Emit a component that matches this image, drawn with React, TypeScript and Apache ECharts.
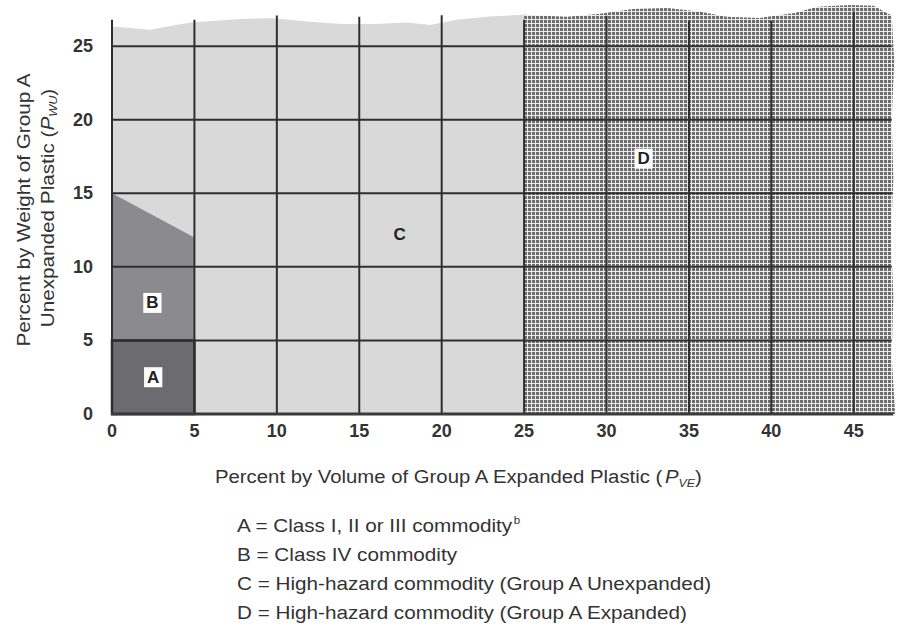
import React, { useEffect, useRef } from "react";
import * as echarts from "echarts";

// ---- data ----
const xTicks = [0, 5, 10, 15, 20, 25, 30, 35, 40, 45];
const yTicks = [0, 5, 10, 15, 20, 25];
const X_MAX = 47.5;
const Y_MAX = 28;

// region A: Class I, II or III
const regionA = [[0, 0], [5, 0], [5, 5], [0, 5]];
// region B: Class IV
const regionB = [[0, 5], [5, 5], [5, 12], [0, 15]];
// wavy top of region C (x 0..25)
const topCx = [0, 2.3, 4.75, 7.8, 9.8, 11.8, 13.9, 15.9, 17.9, 19.3, 20.9, 22.9, 25];
const topCy = [26.33, 26.11, 26.6, 26.85, 26.9, 26.67, 26.51, 26.51, 26.6, 26.43, 26.79, 27.01, 27.13];
// wavy top of region D (x 25..47.2)
const topDx = [25, 27.6, 29.6, 31.6, 33.7, 35.7, 37.3, 39.3, 41.4, 42.8, 44.8, 46.2, 47.2];
const topDy = [27.13, 26.99, 27.2, 27.53, 27.6, 27.33, 26.99, 26.92, 27.26, 27.67, 27.8, 27.74, 27.13];
// ragged right edge of region D (top to bottom)
const edgeDy = [27.13, 24, 20, 16, 12, 8, 4, 0];
const edgeDx = [47.3, 47.45, 47.3, 47.4, 47.25, 47.4, 47.3, 47.5];

// grid lines
const vLineX = [0, 5, 10, 15, 20, 25, 30, 35, 40, 45];
const vLineTop = [26.8, 26.8, 27.08, 27.0, 27.1, 26.8, 27.06, 26.74, 26.74, 27.35];
const hLineY = [5, 10, 15, 20, 25];
const hLineRight = [47.3, 47.3, 47.35, 47.3, 47.3];
const axisRight = 47.4;

// region labels
const labelText = ["A", "B", "C", "D"];
const labelX = [2.5, 2.45, 17.45, 32.25];
const labelY = [2.5, 7.55, 12.2, 17.35];
const labelBoxed = [true, true, false, true];

// legend lines
const legendLines = [
  "A = Class I, II or III commodity{sup|b}",
  "B = Class IV commodity",
  "C = High-hazard commodity (Group A Unexpanded)",
  "D = High-hazard commodity (Group A Expanded)",
];

const FONT = '"Liberation Sans", Arial, Helvetica, sans-serif';
const TEXT = "#333333";
const LINE = "#2f2f2f";

function zip(xs: number[], ys: number[]): number[][] {
  return xs.map((x, i) => [x, ys[i]]);
}

function makeHatch(): string {
  const c = document.createElement("canvas");
  c.width = 4;
  c.height = 4;
  const g = c.getContext("2d")!;
  g.fillStyle = "#ececec";
  g.fillRect(0, 0, 4, 4);
  g.fillStyle = "#6c6c6c";
  g.fillRect(0, 0, 3, 3);
  return c.toDataURL();
}

export default function App() {
  const ref = useRef<HTMLDivElement>(null);

  useEffect(() => {
    if (!ref.current) return;
    const chart = echarts.init(ref.current, undefined, { renderer: "svg" });

    const regionC = [[0, 0], [25, 0], ...zip(topCx, topCy).reverse()];
    const edgeUp = zip(edgeDx, edgeDy).reverse();
    const regionD = [[25, 0], ...edgeUp, ...zip(topDx, topDy).reverse()];
    const hatch = makeHatch();

    const regionPolys = [regionC, regionD, regionB, regionA];
    const regionFills: any[] = [
      "#d9d9d9",
      { image: hatch, repeat: "repeat", imageWidth: 4, imageHeight: 4 },
      "#8b8b8f",
      "#6c6c70",
    ];

    const baseFont = { fontFamily: FONT, fontSize: 18, fill: TEXT };

    const legendGraphics = legendLines.map((t, i) => ({
      type: "text",
      x: 237,
      y: 526 + i * 29,
      scaleX: 1.15,
      style: {
        text: t,
        ...baseFont,
        lineHeight: 22,
        align: "left",
        verticalAlign: "middle",
        rich: {
          sup: {
            fontFamily: FONT,
            fontSize: 10,
            fill: TEXT,
            verticalAlign: "top",
            lineHeight: 16,
          },
        },
      },
    }));

    const subRich = {
      i: { fontFamily: FONT, fontSize: 18, fontStyle: "italic", fill: TEXT, lineHeight: 22 },
      s: { fontFamily: FONT, fontSize: 11, fontStyle: "italic", fill: TEXT, verticalAlign: "bottom", lineHeight: 12 },
    };

    const option: any = {
      animation: false,
      backgroundColor: "#ffffff",
      grid: { left: 112, right: 4, top: 2, bottom: 216, containLabel: false },
      xAxis: {
        type: "value",
        min: 0,
        max: X_MAX,
        interval: 5,
        axisLine: { show: false },
        axisTick: { show: false },
        splitLine: { show: false },
        axisLabel: {
          margin: 8,
          fontSize: 18,
          fontWeight: "bold",
          fontFamily: FONT,
          color: TEXT,
          showMaxLabel: false,
          formatter: (v: number) => (xTicks.includes(v) ? String(v) : ""),
        },
      },
      yAxis: {
        type: "value",
        min: 0,
        max: Y_MAX,
        interval: 5,
        axisLine: { show: false },
        axisTick: { show: false },
        splitLine: { show: false },
        axisLabel: {
          margin: 19,
          fontSize: 18,
          fontWeight: "bold",
          fontFamily: FONT,
          color: TEXT,
          showMaxLabel: false,
          formatter: (v: number) => (yTicks.includes(v) ? String(v) : ""),
        },
      },
      series: [
        {
          type: "custom",
          name: "regions",
          z: 1,
          silent: true,
          data: regionPolys.map((_, i) => [i, 0]),
          renderItem: (params: any, api: any) => {
            const poly = regionPolys[params.dataIndex];
            return {
              type: "polygon",
              shape: { points: poly.map((p) => api.coord(p)) },
              style: { fill: regionFills[params.dataIndex], stroke: null },
            };
          },
        },
        {
          type: "custom",
          name: "vgrid",
          z: 2,
          silent: true,
          data: vLineX.map((x, i) => [x, vLineTop[i]]),
          renderItem: (params: any, api: any) => {
            const x = api.value(0);
            const top = api.value(1);
            const p0 = api.coord([x, 0]);
            const p1 = api.coord([x, top]);
            return {
              type: "line",
              shape: { x1: p0[0], y1: p0[1], x2: p1[0], y2: p1[1] },
              style: { stroke: LINE, lineWidth: 2 },
            };
          },
        },
        {
          type: "custom",
          name: "hgrid",
          z: 2,
          silent: true,
          data: hLineY.map((y, i) => [hLineRight[i], y]),
          renderItem: (params: any, api: any) => {
            const right = api.value(0);
            const y = api.value(1);
            const p0 = api.coord([0, y]);
            const p1 = api.coord([right, y]);
            return {
              type: "line",
              shape: { x1: p0[0], y1: p0[1], x2: p1[0], y2: p1[1] },
              style: { stroke: LINE, lineWidth: 2 },
            };
          },
        },
        {
          type: "custom",
          name: "outline",
          z: 3,
          silent: true,
          data: [[0, 0]],
          renderItem: (params: any, api: any) => {
            const a = regionA.map((p) => api.coord(p));
            const b0 = api.coord([0, 0]);
            const b1 = api.coord([axisRight, 0]);
            return {
              type: "group",
              children: [
                {
                  type: "polygon",
                  shape: { points: a },
                  style: { fill: "none", stroke: LINE, lineWidth: 2.5 },
                },
                {
                  type: "line",
                  shape: { x1: b0[0] - 1, y1: b0[1], x2: b1[0], y2: b1[1] },
                  style: { stroke: "#3a3a3a", lineWidth: 3 },
                },
              ],
            };
          },
        },
        {
          type: "custom",
          name: "labels",
          z: 4,
          silent: true,
          data: labelText.map((_, i) => [labelX[i], labelY[i]]),
          renderItem: (params: any, api: any) => {
            const i = params.dataIndex;
            const p = api.coord([api.value(0), api.value(1)]);
            const style: any = {
              text: labelText[i],
              x: p[0],
              y: p[1],
              align: "center",
              verticalAlign: "middle",
              fontFamily: FONT,
              fontSize: 17,
              fontWeight: "bold",
              fill: "#222222",
            };
            if (labelBoxed[i]) {
              style.backgroundColor = "#ffffff";
              style.padding = [2, 3, 1, 3];
            }
            return { type: "text", style };
          },
        },
      ],
      graphic: [
        {
          type: "text",
          x: 24,
          y: 210,
          rotation: Math.PI / 2,
          scaleX: 1.15,
          style: {
            text: "Percent by Weight of Group A",
            ...baseFont,
            align: "center",
            verticalAlign: "middle",
          },
        },
        {
          type: "text",
          x: 48,
          y: 208,
          rotation: Math.PI / 2,
          scaleX: 1.15,
          style: {
            text: "Unexpanded Plastic ({i|P}{s|WU})",
            ...baseFont,
            lineHeight: 22,
            align: "center",
            verticalAlign: "middle",
            rich: subRich,
          },
        },
        {
          type: "text",
          x: 215,
          y: 477,
          scaleX: 1.13,
          style: {
            text: "Percent by Volume of Group A Expanded Plastic ({i|P}{s|VE})",
            ...baseFont,
            lineHeight: 22,
            align: "left",
            verticalAlign: "middle",
            rich: subRich,
          },
        },
        ...legendGraphics,
      ],
    };

    chart.setOption(option);
    return () => chart.dispose();
  }, []);

  return (
    <div
      ref={ref}
      style={{ position: "absolute", left: 0, top: 0, width: 899, height: 630, background: "#fff" }}
    />
  );
}
